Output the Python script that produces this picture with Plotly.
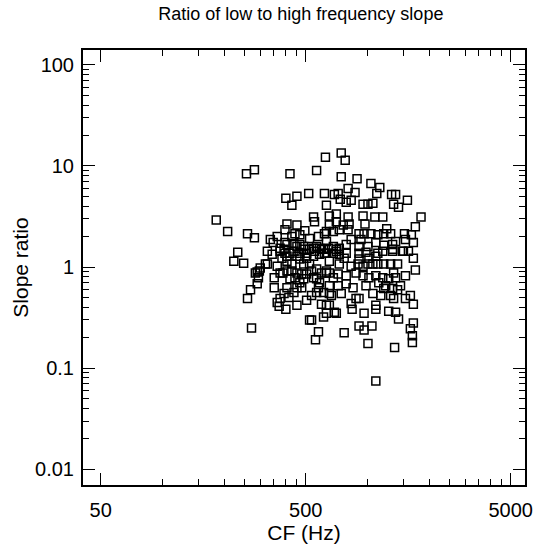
import plotly.graph_objects as go

# CF (Hz) and slope ratio
cf = [183, 208, 257, 281, 419, 565, 624, 453, 400, 428, 517, 617, 631, 690, 260, 281, 233, 336, 347, 546,
      552, 652, 405, 453, 396, 443, 468, 495, 522, 617, 682, 396, 438, 453, 468, 375, 546, 565, 597, 392,
      405, 489, 522, 552, 584, 645, 682, 396, 419, 468, 505, 617, 682,
      745, 779, 745, 890, 1040, 1149, 805, 870, 720, 1111, 1312, 1372, 1567, 737, 788, 833, 952, 1006, 1063,
      1342, 1418, 1826, 952, 1087, 1188, 973, 805, 705, 1713, 1242, 910, 963, 1040, 1124, 1201, 1298, 1516,
      1638, 1675, 1533, 910, 1006, 1099, 1201, 1327, 729, 631, 652, 705, 762, 814, 805, 729, 788, 1499, 1585,
      910, 984, 1124, 1327, 705, 788,
      223, 249, 290, 318, 300, 351, 351, 375, 387, 405, 428, 453, 478, 419, 443, 468, 453, 478, 405, 438,
      414, 392, 375, 363, 371, 400, 489, 505, 534, 565, 597, 631, 652, 682, 546, 565, 584, 577, 565, 611,
      652, 667, 597, 611, 652, 690, 522, 534, 577, 558, 505, 546, 584, 631, 468, 489, 522, 453, 405, 405,
      375, 438, 489, 611, 272, 269, 260, 294, 290, 284, 297, 325,
      705, 729, 770, 652, 729, 900, 952, 1006, 1063, 1124, 1201, 1298, 1403, 910, 1017, 1099, 1188, 1327,
      1482, 1675, 1713, 631, 720, 880, 952, 1017, 1099, 1188, 1270, 1372, 1342, 1136, 1228, 788, 720, 652,
      1201, 1403, 1327, 1063, 1162, 1298, 1342, 1533, 1620, 1675, 880, 910, 833, 1099, 1099, 842, 631, 631,
      705, 963, 1270, 1372, 1418, 910, 963, 1052, 770, 1675, 1620, 1657, 1657, 1006, 1357, 1099,
      383, 428, 363, 343, 833, 788, 851, 745, 984, 1533, 1450, 534, 505, 453, 631, 833, 930, 1372, 577,
      428, 363, 325]

ratio = [2.92, 2.24, 8.36, 9.15, 8.36, 9.0, 12.2, 5.0, 4.78, 4.09, 5.35, 5.35, 4.09, 5.23, 2.14, 1.95, 1.40, 1.87, 1.75, 3.13,
         2.80, 3.2, 2.67, 2.61, 2.34, 2.14, 2.09, 2.29, 1.91, 2.14, 2.24, 1.75, 1.71, 1.60, 1.67, 1.53, 1.53, 1.60, 1.50, 1.50,
         1.67, 1.60, 1.50, 1.43, 1.53, 1.53, 1.60, 1.37, 1.37, 1.37, 1.37, 1.37, 1.37,
         13.4, 11.4, 7.8, 7.48, 6.69, 6.11, 5.98, 5.47, 5.35, 5.35, 5.23, 5.23, 4.57, 4.67, 4.37, 4.57, 4.18, 4.18, 4.27,
         4.18, 3.91, 3.13, 3.2, 3.13, 3.13, 2.67, 3.13, 3.34, 2.50, 2.39, 2.14, 2.14, 2.14, 2.09, 2.14, 2.14, 2.14,
         2.09, 1.75, 1.87, 1.60, 1.60, 1.75, 1.64, 1.67, 2.34, 2.24, 2.61, 2.80, 2.61, 2.67, 2.34, 1.53, 1.67, 1.43, 1.43,
         1.37, 1.40, 1.37, 1.43, 1.43, 1.37,
         1.14, 1.09, 0.895, 1.07, 0.978, 0.782, 0.625, 0.875, 0.875, 0.915, 0.915, 0.875, 0.855, 0.765, 0.782, 0.699, 0.625, 0.625, 0.625, 0.559,
         0.50, 0.547, 0.489, 0.447, 0.409, 0.382, 0.765, 0.855, 0.915, 0.956, 0.875, 0.915, 0.875, 0.782, 0.782, 0.765, 0.699, 0.625, 0.559, 0.559,
         0.547, 0.523, 0.428, 0.320, 0.418, 0.358, 0.299, 0.299, 0.229, 0.191, 1.22, 1.28, 1.34, 1.37, 1.20, 1.07, 1.07, 1.28, 1.14, 1.28,
         1.43, 1.43, 1.50, 1.50, 0.25, 0.598, 0.489, 0.782, 0.684, 0.875, 0.915, 1.07,
         1.50, 1.34, 1.22, 1.14, 1.07, 1.07, 1.02, 1.07, 1.07, 1.07, 1.07, 1.07, 1.07, 1.20, 1.22, 1.28, 1.43, 1.50,
         1.43, 1.22, 0.935, 0.875, 0.855, 0.875, 0.818, 0.782, 0.818, 0.782, 0.765, 0.782, 0.875, 0.699, 0.654, 0.684, 0.654, 0.654,
         0.612, 0.598, 0.612, 0.547, 0.523, 0.523, 0.489, 0.489, 0.523, 0.428, 0.489, 0.489, 0.437, 0.418, 0.382, 0.382, 0.418, 0.350,
         0.350, 0.350, 0.366, 0.358, 0.306, 0.262, 0.239, 0.262, 0.224, 0.280, 0.245, 0.209, 0.179, 0.175, 0.160, 0.0748,
         1.22, 1.07, 1.02, 1.34, 1.02, 0.818, 0.625, 0.547, 0.654, 0.818, 0.654, 0.523, 0.47, 0.418, 1.79, 1.87, 1.87, 1.79, 2.0,
         2.0, 2.0, 1.43]

x_major = [50, 500, 5000]
x_major_text = ["50", "500", "5000"]
x_minor = [100, 150, 200, 250, 300, 350, 400, 450,
           1000, 1500, 2000, 2500, 3000, 3500, 4000, 4500]
y_major = [0.01, 0.1, 1, 10, 100]
y_major_text = ["0.01", "0.1", "1", "10", "100"]
y_minor = [m * d for d in [0.01, 0.1, 1, 10] for m in range(2, 10)]

FONT = "Liberation Sans, Arial, Helvetica, sans-serif"
XRANGE = [1.6125, 3.7687]
YRANGE = [-2.155, 2.146]

fig = go.Figure()
fig.add_trace(go.Scatter(
    x=cf, y=ratio, mode="markers",
    marker=dict(symbol="square-open", size=8, color="black",
                line=dict(color="black", width=1.5)),
    showlegend=False, hoverinfo="x+y",
))
# invisible trace to activate the mirrored (top/right) axes
fig.add_trace(go.Scatter(
    x=[cf[0]], y=[ratio[0]], xaxis="x2", yaxis="y2", mode="markers",
    marker=dict(opacity=0), showlegend=False, hoverinfo="skip",
))

tick_common = dict(
    ticks="inside", ticklen=12, tickwidth=1.4, tickcolor="black",
    showgrid=False, zeroline=False,
    showline=True, linecolor="black", linewidth=2,
)
xminor = dict(tickmode="array", tickvals=x_minor, ticks="inside",
              ticklen=6, tickwidth=1.3, tickcolor="black", showgrid=False)
yminor = dict(tickmode="array", tickvals=y_minor, ticks="inside",
              ticklen=6, tickwidth=1.3, tickcolor="black", showgrid=False)

fig.update_layout(
    width=544, height=548,
    margin=dict(l=83, r=11, t=50, b=56),
    paper_bgcolor="white", plot_bgcolor="white",
    font=dict(family=FONT, color="black"),
    title=dict(text="Ratio of low to high frequency slope",
               font=dict(family=FONT, size=18, color="black"),
               x=0.553, xanchor="center", xref="container",
               y=0.987, yanchor="top", yref="container"),
    xaxis=dict(
        type="log", range=XRANGE,
        tickmode="array", tickvals=x_major, ticktext=x_major_text,
        minor=xminor,
        tickfont=dict(family=FONT, size=20, color="black"),
        ticklabelstandoff=6,
        title=dict(text="CF (Hz)", font=dict(family=FONT, size=21, color="black"), standoff=1),
        **tick_common,
    ),
    yaxis=dict(
        type="log", range=YRANGE,
        tickmode="array", tickvals=y_major, ticktext=y_major_text,
        minor=yminor,
        tickfont=dict(family=FONT, size=20, color="black"),
        ticklabelstandoff=3,
        title=dict(text="Slope ratio", font=dict(family=FONT, size=21, color="black"), standoff=1),
        **tick_common,
    ),
    xaxis2=dict(
        type="log", range=XRANGE, overlaying="x", side="top", anchor="y",
        tickmode="array", tickvals=x_major, showticklabels=False,
        minor=xminor, **tick_common,
    ),
    yaxis2=dict(
        type="log", range=YRANGE, overlaying="y", side="right", anchor="x",
        tickmode="array", tickvals=y_major, showticklabels=False,
        minor=yminor, **tick_common,
    ),
)

fig.write_html("out.html")
